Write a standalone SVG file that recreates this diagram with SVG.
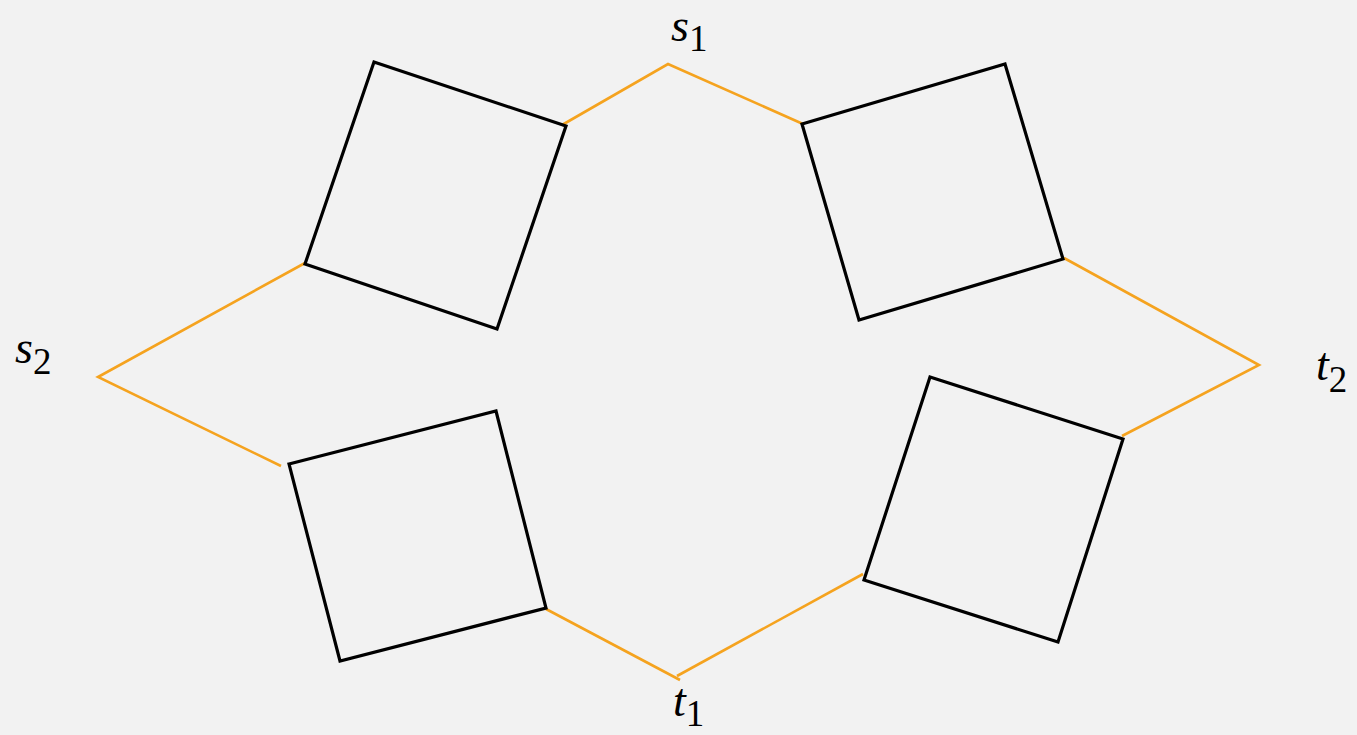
<svg xmlns="http://www.w3.org/2000/svg" width="1357" height="735" viewBox="0 0 1357 735">
<style>
.sq{fill:none;stroke:#000;stroke-width:3.2;stroke-linejoin:miter}
.ln{fill:none;stroke:#F5A31F;stroke-width:2.6}
.lb{font-family:"Liberation Serif",serif;font-size:46px;font-style:italic;fill:#000}
.sub{font-size:37px;font-style:normal}
</style>
<rect width="1357" height="735" fill="#F2F2F2"/>
<g id="connectors">
<polyline class="ln" points="562,125 668,64 803,124"/>
<polyline class="ln" points="305,263 98,377 281,466"/>
<polyline class="ln" points="1064,258 1259,365 1122,436"/>
<line class="ln" x1="546" y1="609" x2="680" y2="680"/>
<line class="ln" x1="677" y1="676" x2="863" y2="574"/>
</g>
<g id="square1"><polygon class="sq" points="374,62 566,126 497,329 305,264"/></g>
<g id="square2"><polygon class="sq" points="802,124 1005,64 1063,259 859,320"/></g>
<g id="square3"><polygon class="sq" points="289,464 496,411 546,608 340,661"/></g>
<g id="square4"><polygon class="sq" points="930,377 1123,439 1058,642 864,580"/></g>
<g id="label-s1"><text class="lb" x="671" y="41">s<tspan class="sub" dy="10">1</tspan></text></g>
<g id="label-s2"><text class="lb" x="15" y="363">s<tspan class="sub" dy="11">2</tspan></text></g>
<g id="label-t2"><text class="lb" x="1316" y="380">t<tspan class="sub" dy="12">2</tspan></text></g>
<g id="label-t1"><text class="lb" x="673" y="716">t<tspan class="sub" dy="10">1</tspan></text></g>
</svg>
